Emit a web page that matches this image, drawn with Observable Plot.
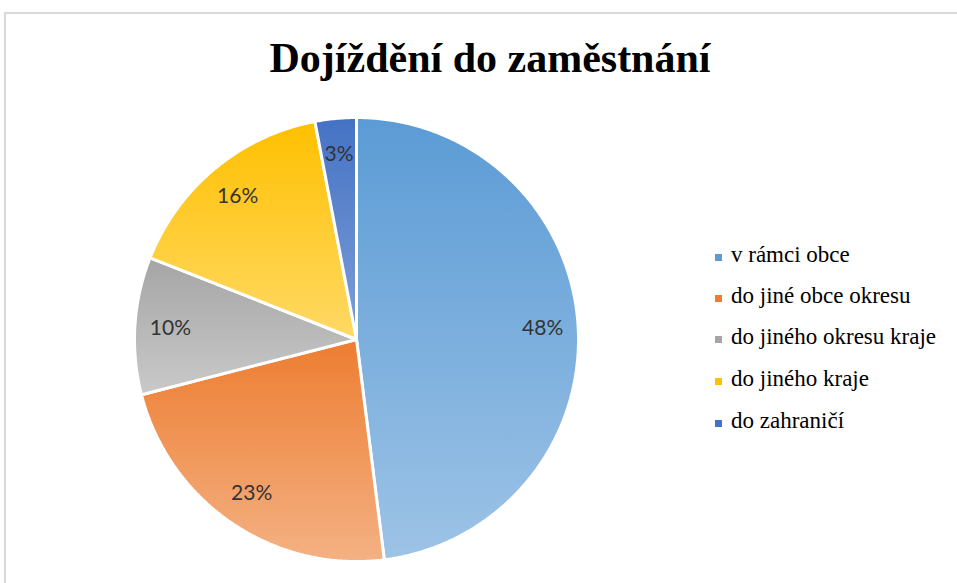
<!DOCTYPE html>
<html>
<head>
<meta charset="utf-8">
<script src="https://cdn.jsdelivr.net/npm/d3@7"></script>
<script src="https://cdn.jsdelivr.net/npm/@observablehq/plot@0.6"></script>
<style>
  html, body { margin: 0; padding: 0; background: #fff; }
  #wrap { position: relative; width: 957px; height: 583px; overflow: hidden; background: #fff; }
  #frame { position: absolute; left: 4px; top: 12px; width: 1100px; height: 1100px; border: 2px solid #d9d9d9; box-sizing: border-box; }
  #title { position: absolute; left: 0; width: 980px; top: 37px; text-align: center; font-family: "Liberation Serif", "Times New Roman", serif; font-weight: bold; font-size: 42px; line-height: 42px; color: #000; white-space: nowrap; }
  #pie { position: absolute; left: 129px; top: 112px; }
  #legend { position: absolute; left: 715px; top: 0; font-family: "Liberation Serif", "Times New Roman", serif; font-size: 23px; color: #000; }
  .item { position: absolute; left: 0; white-space: nowrap; height: 24px; line-height: 24px; }
  .sw { position: absolute; left: 0; top: 11px; width: 7px; height: 7px; }
  .lab { position: absolute; left: 16px; top: 0; }
</style>
</head>
<body>
<div id="wrap">
  <div id="frame"></div>
  <div id="title">Dojíždění do zaměstnání</div>
  <div id="pie"></div>
  <div id="legend"></div>
  <svg width="0" height="0" style="position:absolute">
    <defs id="defs"></defs>
  </svg>
</div>
<script>
// Data
const categories = ["v rámci obce", "do jiné obce okresu", "do jiného okresu kraje", "do jiného kraje", "do zahraničí"];
const values = [48, 23, 10, 16, 3];
const colorsTop = ["#5B9BD5", "#ED7D31", "#A5A5A5", "#FFC000", "#4472C4"];
const colorsBottom = ["#9DC3E6", "#F4B183", "#C9C9C9", "#FFD966", "#7F9FD8"];
const legendTops = [243, 284, 325, 367, 409];

// gradients
const defs = d3.select("#defs");
categories.forEach((c, i) => {
  const g = defs.append("linearGradient").attr("id", "g" + i)
    .attr("x1", 0).attr("y1", 0).attr("x2", 0).attr("y2", 1);
  g.append("stop").attr("offset", "0%").attr("stop-color", colorsTop[i]);
  g.append("stop").attr("offset", "100%").attr("stop-color", colorsBottom[i]);
});

// pie geometry from values
const arcs = d3.pie().sort(null).value(d => d.value)(categories.map((c, i) => ({cat: c, value: values[i], i})));
const slicePts = arcs.map(a => {
  const pts = [{x: 0, y: 0}];
  const n = Math.max(2, Math.ceil((a.endAngle - a.startAngle) / (Math.PI / 360)));
  for (let k = 0; k <= n; k++) {
    const t = a.startAngle + (a.endAngle - a.startAngle) * k / n;
    pts.push({x: Math.sin(t), y: Math.cos(t)});
  }
  pts.push({x: 0, y: 0});
  return pts;
});
const labels = arcs.map(a => {
  const m = (a.startAngle + a.endAngle) / 2;
  return {x: 0.84 * Math.sin(m), y: 0.84 * Math.cos(m), text: a.data.value + "%"};
});

const chart = Plot.plot({
  width: 454, height: 454,
  margin: 5,
  x: {domain: [-1, 1], axis: null},
  y: {domain: [-1, 1], axis: null},
  marks: [
    ...slicePts.map((pts, i) => Plot.line(pts, {x: "x", y: "y", fill: `url(#g${i})`, stroke: "white", strokeWidth: 3, strokeLinejoin: "miter", curve: "linear"})),
    Plot.text(labels, {x: "x", y: "y", text: "text", fontSize: 21, fill: "#333", fontFamily: "Lato, 'Open Sans', sans-serif"})
  ]
});
document.getElementById("pie").appendChild(chart);

// legend
const leg = document.getElementById("legend");
categories.forEach((c, i) => {
  const it = document.createElement("div");
  it.className = "item";
  it.style.top = legendTops[i] + "px";
  it.innerHTML = `<span class="sw" style="background:${colorsTop[i]}"></span><span class="lab"></span>`;
  it.querySelector(".lab").textContent = c;
  leg.appendChild(it);
});
</script>
</body>
</html>
